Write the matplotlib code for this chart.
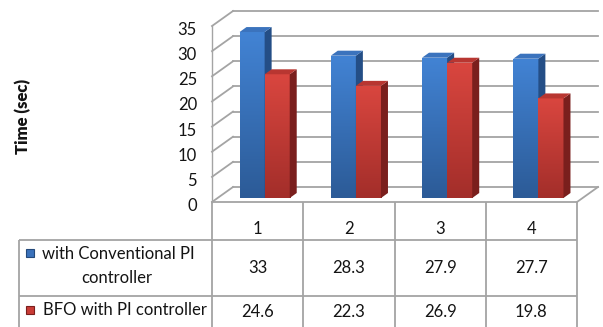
import matplotlib
matplotlib.use("Agg")
import matplotlib.pyplot as plt
import numpy as np
from matplotlib.patches import Polygon, Rectangle
from matplotlib.colors import LinearSegmentedColormap
from matplotlib.transforms import offset_copy, IdentityTransform

# run times for each test case
categories = ["1", "2", "3", "4"]
conventional = [33, 28.3, 27.9, 27.7]
bfo_pi = [24.6, 22.3, 26.9, 19.8]
series_names = ["with Conventional PI\ncontroller", "BFO with PI controller"]
y_ticks = [0, 5, 10, 15, 20, 25, 30, 35]

plt.rcParams["font.family"] = ["Lato", "DejaVu Sans"]
TXT = "#141414"
GRID = "#a4a4a4"
FS = 12

W, H = 603, 327
fig = plt.figure(figsize=(W / 100, H / 100), dpi=100)

# pixel-space layer for the data table and the axis title
tab = fig.add_axes([0, 0, 1, 1])
tab.set_xlim(0, W)
tab.set_ylim(H, 0)
tab.axis("off")

# plane the bar fronts sit in
ax = fig.add_axes([219 / W, (H - 198) / H, 365 / W, 176 / H])
ax.set_xlim(0, len(categories))
ax.set_ylim(0, 35)
ax.axis("off")

FRONT = (-7, -4)   # front edge of the floor, relative to the bar plane
BACK = (14, 11)    # back wall
DEPTH = (7, 5)     # depth of a single bar


def disp(x, y, off=(0, 0)):
    px, py = ax.transData.transform((x, y))
    return px + off[0], py + off[1]


def line3d(p, q, **kw):
    ax.plot([p[0], q[0]], [p[1], q[1]], transform=IdentityTransform(),
            clip_on=False, **kw)


n = len(categories)
# back wall and side wall gridlines
for v in y_ticks:
    line3d(disp(0, v, BACK), disp(n, v, BACK), color=GRID, lw=1.3, zorder=1)
    line3d(disp(0, v, FRONT), disp(0, v, BACK), color=GRID, lw=1.3, zorder=1)
line3d(disp(0, 0, FRONT), disp(0, 35, FRONT), color=GRID, lw=1.0, zorder=1)
# floor edges
line3d(disp(0, 0, FRONT), disp(n, 0, FRONT), color=GRID, lw=1.3, zorder=1)
line3d(disp(n, 0, FRONT), disp(n, 0, BACK), color=GRID, lw=1.3, zorder=1)

series = [
    (conventional, -0.275, ("#4283d4", "#2c5b97"), "#244e86", "#3b73bd"),
    (bfo_pi, 0.0, ("#d9463f", "#a32e2a"), "#7a1f1d", "#b83631"),
]
x = np.arange(n) + 0.5
width = 0.275
z = 3
for i in range(n):
    for vals, shift, (c_top, c_bot), c_side, c_cap in series:
        v = vals[i]
        x0 = x[i] + shift
        x1 = x0 + width
        bar = ax.bar(x0, v, width=width, align="edge", color=c_bot,
                     lw=0, zorder=z)[0]
        cmap = LinearSegmentedColormap.from_list("g", [c_bot, c_top])
        grad = np.linspace(1, 0, 64).reshape(-1, 1)
        im = ax.imshow(grad, extent=[x0, x1, 0, v], cmap=cmap, aspect="auto",
                       zorder=z + 0.1, interpolation="bilinear")
        im.set_clip_path(bar)
        side = [disp(x1, 0), disp(x1, v), disp(x1, v, DEPTH), disp(x1, 0, DEPTH)]
        ax.add_patch(Polygon(side, closed=True, fc=c_side, ec="none",
                             transform=IdentityTransform(), clip_on=False,
                             zorder=z + 0.2))
        cap = [disp(x0, v), disp(x1, v), disp(x1, v, DEPTH), disp(x0, v, DEPTH)]
        ax.add_patch(Polygon(cap, closed=True, fc=c_cap, ec="none",
                             transform=IdentityTransform(), clip_on=False,
                             zorder=z + 0.3))
        z += 1
ax.set_xlim(0, n)
ax.set_ylim(0, 35)

# value axis labels
tick_t = offset_copy(ax.transData, fig=fig, x=-22, y=-8, units="dots")
for v in y_ticks:
    ax.text(0, v, str(v), transform=tick_t, ha="right", va="center",
            fontsize=FS, color=TXT, clip_on=False)

tab.text(23, 116, "Time (sec)", rotation=90, ha="center", va="center",
         fontsize=12, fontweight="heavy", color=TXT)

# data table below the floor
edges = [disp(i, 0, FRONT)[0] for i in range(n + 1)]
floor_y = H - disp(0, 0, FRONT)[1]
tab.vlines(edges, floor_y, H, color=GRID, lw=1.3)
tab.hlines([240, 296], 19, edges[-1], color=GRID, lw=1.3)
tab.vlines(19, 240, H, color=GRID, lw=1.3)

for i, c in enumerate(categories):
    cx = (edges[i] + edges[i + 1]) / 2
    tab.text(cx, 229, c, ha="center", va="center", fontsize=FS, color=TXT)
    tab.text(cx, 268, f"{conventional[i]:g}", ha="center", va="center",
             fontsize=FS, color=TXT)
    tab.text(cx, 312, f"{bfo_pi[i]:g}", ha="center", va="center",
             fontsize=FS, color=TXT)

first, second = series_names[0].split("\n")
tab.text(118, 254, first, ha="center", va="center", fontsize=FS, color=TXT)
tab.text(117, 278, second, ha="center", va="center", fontsize=FS, color=TXT)
tab.text(43, 310, series_names[1], ha="left", va="center", fontsize=FS,
         color=TXT)
tab.add_patch(Rectangle((26, 249), 8, 8, fc="#3a72bb", ec="#24497a", lw=0.8))
tab.add_patch(Rectangle((26, 306), 8, 8, fc="#c93c36", ec="#7a1f1d", lw=0.8))

fig.savefig("out.png", dpi=100)
